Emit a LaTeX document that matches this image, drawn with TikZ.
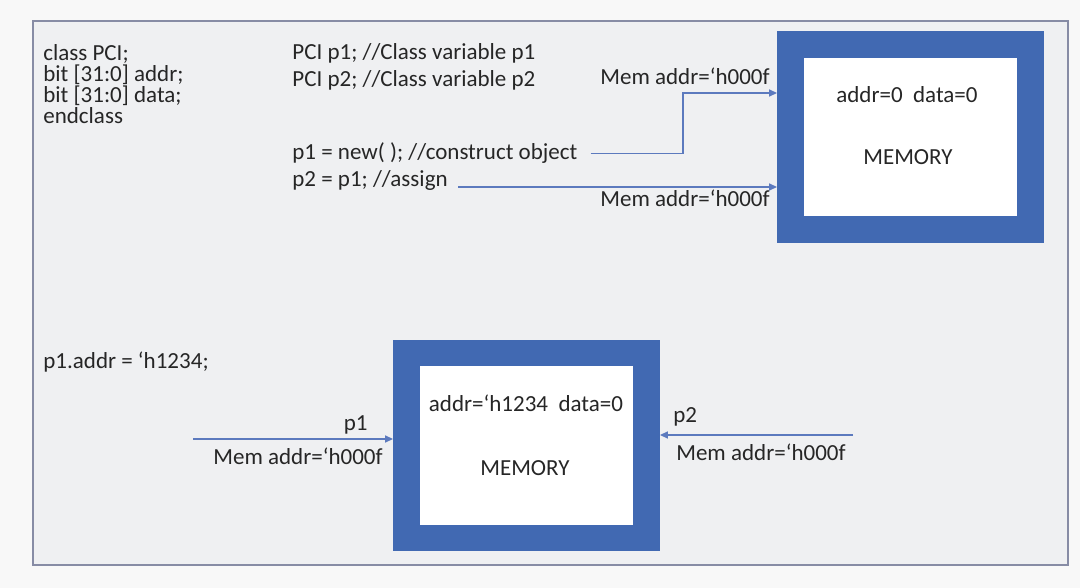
\documentclass[tikz,border=0pt]{standalone}
\usepackage{fontspec}
\setmainfont{Carlito}
\usetikzlibrary{arrows.meta}

\definecolor{memblue}{RGB}{65,105,178}
\definecolor{linkblue}{RGB}{92,122,190}
\definecolor{txtgray}{RGB}{38,38,38}
\definecolor{panelgray}{RGB}{239,240,242}
\definecolor{pagegray}{RGB}{248,248,248}
\definecolor{framegray}{RGB}{135,140,165}

\begin{document}
\begin{tikzpicture}[x=0.02cm, y=-0.02cm,
    code/.style={font=\fontsize{13.1}{15}\selectfont, text=txtgray, inner sep=0pt},
    membox/.style={draw=memblue, line width=0.53cm, fill=white,
        minimum width=4.81cm, minimum height=3.71cm, outer sep=0.265cm},
    link/.style={draw=linkblue, line width=0.7pt, -{Triangle[length=4.5pt,width=4pt]}}]
    % page and frame
    \fill[pagegray] (0,0) rectangle (1080,588);
    \draw[framegray, fill=panelgray, line width=0.9pt] (33,21) rectangle (1068,565);

    % class declaration
    \node[code, anchor=base west] (cls) at (43,61) {class PCI;};
    \node[code, anchor=base west] (fldaddr) at (43,82) {bit [31:0] addr;};
    \node[code, anchor=base west] (flddata) at (43,103) {bit [31:0] data;};
    \node[code, anchor=base west] (clsend) at (43,124) {endclass};

    % handles
    \node[code, anchor=base west] (declp1) at (292,60) {PCI p1; //Class variable p1};
    \node[code, anchor=base west] (declp2) at (292,87) {PCI p2; //Class variable p2};
    \node[code, anchor=base west] (pnew) at (292,160) {p1 = new( ); //construct object};
    \node[code, anchor=base west] (passign) at (292,187) {p2 = p1; //assign};
    \node[code, anchor=base west] (setaddr) at (43,369) {p1.addr = `h1234;};

    % memory objects
    \node[membox] (topmem) at (910.5,137) {};
    \node[membox] (lowmem) at (526.5,445.5) {};
    \node[code, anchor=base] (topval) at (907,103) {addr=0\ \ data=0};
    \node[code, anchor=base] (toplbl) at (908,165) {MEMORY};
    \node[code, anchor=base] (lowval) at (526,412) {addr=`h1234\ \ data=0};
    \node[code, anchor=base] (lowlbl) at (525,475) {MEMORY};

    % pointer labels
    \node[code, anchor=base east] (ptrup) at (770,85) {Mem addr=`h000f};
    \node[code, anchor=base east] (ptrdown) at (770,207) {Mem addr=`h000f};
    \node[code, anchor=base east] (p1name) at (368,430) {p1};
    \node[code, anchor=base east] (p1ptr) at (383,464) {Mem addr=`h000f};
    \node[code, anchor=base west] (p2name) at (673,422) {p2};
    \node[code, anchor=base west] (p2ptr) at (676,460) {Mem addr=`h000f};

    % pointers
    \coordinate (bend) at (683,93);
    \coordinate (p1src) at (193,439);
    \coordinate (p2src) at (853,435);
    \draw[link, shorten <=0.26cm] (pnew.east) -| (bend) -- (bend -| topmem.west);
    \draw[link, shorten <=0.2cm] (passign.base east) -- (passign.base east -| topmem.west);
    \draw[link] (p1src) -- (p1src -| lowmem.west);
    \draw[link] (p2src) -- (p2src -| lowmem.east);
\end{tikzpicture}
\end{document}
